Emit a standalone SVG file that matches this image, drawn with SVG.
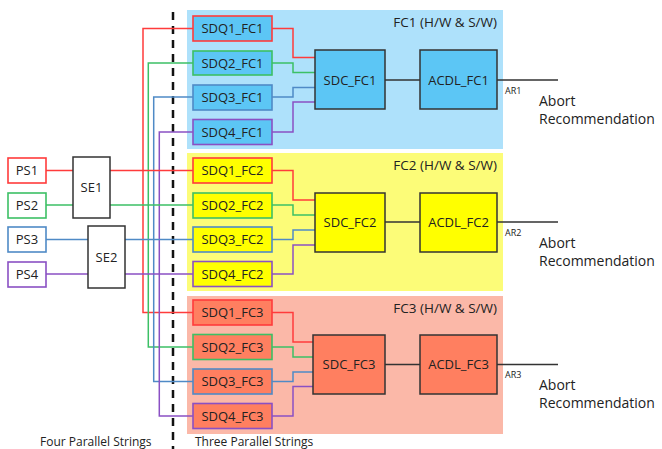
<svg xmlns="http://www.w3.org/2000/svg" width="662" height="449" viewBox="0 0 662 449">
<style>
text{font-family:"Open Sans","Liberation Sans",sans-serif;fill:#222}
.lbl{font-size:13px;text-anchor:middle}
.ttl{font-size:13.5px;text-anchor:end}
.ar{font-size:9px}
.ab{font-size:14px}
.bot{font-size:12px}
.box{stroke-width:1.6}
.blk{stroke:#333;fill:none;stroke-width:1.5}
.r{stroke:#FF3B3B}
.g{stroke:#3CC065}
.b{stroke:#4F8AC6}
.p{stroke:#8A50C4}
.w{fill:none;stroke-width:1.5}
</style>
<rect width="662" height="449" fill="#fff"/>
<g id="panels">
<rect x="187" y="10" width="316" height="139" fill="#AEE1FB"/>
<rect x="187" y="153" width="316" height="138" fill="#FCFC78"/>
<rect x="187" y="296" width="316" height="138" fill="#FBB8A8"/>
<text class="ttl" x="497" y="27">FC1 (H/W &amp; S/W)</text>
<text class="ttl" x="497" y="170">FC2 (H/W &amp; S/W)</text>
<text class="ttl" x="497" y="313">FC3 (H/W &amp; S/W)</text>
</g>
<line id="divider" x1="173" y1="12" x2="173" y2="449" stroke="#111" stroke-width="2.5" stroke-dasharray="8,6"/>
<g id="connectors">
<path class="w r" d="M193,28.5H143V312.5H193"/>
<path class="w g" d="M193,63H148.3V347H193"/>
<path class="w b" d="M193,97H153.7V381.5H193"/>
<path class="w p" d="M193,132H159.3V416H193"/>
<path class="w r" d="M46,170.5H73M110,170.5H193"/>
<path class="w g" d="M46,205H73M110,205H193"/>
<path class="w b" d="M46,239.5H88M125,239.5H193"/>
<path class="w p" d="M46,274H88M125,274H193"/>
<path class="w r" d="M272,28.5H293V57.5H315"/>
<path class="w g" d="M272,63H293V72.5H315"/>
<path class="w b" d="M272,97H293V87.5H315"/>
<path class="w p" d="M272,132H293V102H315"/>
<path class="w r" d="M272,170.5H293V200H315"/>
<path class="w g" d="M272,205H293V215H315"/>
<path class="w b" d="M272,239.5H293V230H315"/>
<path class="w p" d="M272,274H293V245H315"/>
<path class="w r" d="M272,312.5H293V342H313"/>
<path class="w g" d="M272,347H293V357H313"/>
<path class="w b" d="M272,381.5H293V372H313"/>
<path class="w p" d="M272,416H293V386.5H313"/>
<path class="blk" d="M385,80H420M497,80H558"/>
<path class="blk" d="M385,222H420M497,222H558"/>
<path class="blk" d="M385,364.5H420M497,364.5H558"/>
</g>
<g id="PS1"><rect class="box r" x="8" y="158" width="38" height="25" fill="#fff"/><text class="lbl" x="27" y="175">PS1</text></g>
<g id="PS2"><rect class="box g" x="8" y="193" width="38" height="25" fill="#fff"/><text class="lbl" x="27" y="210">PS2</text></g>
<g id="PS3"><rect class="box b" x="8" y="227" width="38" height="25" fill="#fff"/><text class="lbl" x="27" y="244">PS3</text></g>
<g id="PS4"><rect class="box p" x="8" y="262" width="38" height="25" fill="#fff"/><text class="lbl" x="27" y="279">PS4</text></g>
<g id="SE1"><rect x="73" y="157" width="37" height="61" fill="#fff" stroke="#333" stroke-width="1.5"/><text class="lbl" x="91.5" y="192">SE1</text></g>
<g id="SE2"><rect x="88" y="226" width="37" height="62" fill="#fff" stroke="#333" stroke-width="1.5"/><text class="lbl" x="106.5" y="262">SE2</text></g>
<g id="SDQ1_FC1"><rect class="box r" x="193" y="16" width="79" height="25" fill="#5CC6F5"/><text class="lbl" x="232.5" y="33">SDQ1_FC1</text></g>
<g id="SDQ2_FC1"><rect class="box g" x="193" y="51" width="79" height="24" fill="#5CC6F5"/><text class="lbl" x="232.5" y="67.5">SDQ2_FC1</text></g>
<g id="SDQ3_FC1"><rect class="box b" x="193" y="85" width="79" height="25" fill="#5CC6F5"/><text class="lbl" x="232.5" y="102">SDQ3_FC1</text></g>
<g id="SDQ4_FC1"><rect class="box p" x="193" y="119.5" width="79" height="25" fill="#5CC6F5"/><text class="lbl" x="232.5" y="136.5">SDQ4_FC1</text></g>
<g id="SDQ1_FC2"><rect class="box r" x="193" y="158" width="79" height="25" fill="#FFFF00"/><text class="lbl" x="232.5" y="175">SDQ1_FC2</text></g>
<g id="SDQ2_FC2"><rect class="box g" x="193" y="193" width="79" height="25" fill="#FFFF00"/><text class="lbl" x="232.5" y="210">SDQ2_FC2</text></g>
<g id="SDQ3_FC2"><rect class="box b" x="193" y="227" width="79" height="25" fill="#FFFF00"/><text class="lbl" x="232.5" y="244">SDQ3_FC2</text></g>
<g id="SDQ4_FC2"><rect class="box p" x="193" y="261.5" width="79" height="25" fill="#FFFF00"/><text class="lbl" x="232.5" y="278.5">SDQ4_FC2</text></g>
<g id="SDQ1_FC3"><rect class="box r" x="193" y="300" width="79" height="25" fill="#FF7F60"/><text class="lbl" x="232.5" y="317">SDQ1_FC3</text></g>
<g id="SDQ2_FC3"><rect class="box g" x="193" y="334.5" width="79" height="25" fill="#FF7F60"/><text class="lbl" x="232.5" y="351.5">SDQ2_FC3</text></g>
<g id="SDQ3_FC3"><rect class="box b" x="193" y="369" width="79" height="25" fill="#FF7F60"/><text class="lbl" x="232.5" y="386">SDQ3_FC3</text></g>
<g id="SDQ4_FC3"><rect class="box p" x="193" y="403.5" width="79" height="25" fill="#FF7F60"/><text class="lbl" x="232.5" y="420.5">SDQ4_FC3</text></g>
<g id="SDC_FC1"><rect x="315" y="50" width="70" height="59" fill="#5CC6F5" stroke="#333" stroke-width="1.5"/><text class="lbl" x="350" y="84.5">SDC_FC1</text></g>
<g id="ACDL_FC1"><rect x="420" y="50" width="77" height="59" fill="#5CC6F5" stroke="#333" stroke-width="1.5"/><text class="lbl" x="458.5" y="84.5">ACDL_FC1</text></g>
<g id="SDC_FC2"><rect x="315" y="193" width="70" height="59" fill="#FFFF00" stroke="#333" stroke-width="1.5"/><text class="lbl" x="350" y="227">SDC_FC2</text></g>
<g id="ACDL_FC2"><rect x="420" y="193" width="77" height="59" fill="#FFFF00" stroke="#333" stroke-width="1.5"/><text class="lbl" x="458.5" y="227">ACDL_FC2</text></g>
<g id="SDC_FC3"><rect x="313" y="335" width="72" height="59" fill="#FF7F60" stroke="#333" stroke-width="1.5"/><text class="lbl" x="349" y="369">SDC_FC3</text></g>
<g id="ACDL_FC3"><rect x="420" y="335" width="77" height="59" fill="#FF7F60" stroke="#333" stroke-width="1.5"/><text class="lbl" x="458.5" y="369">ACDL_FC3</text></g>
<g id="outputs">
<text class="ar" x="505" y="94">AR1</text>
<text class="ab" x="539" y="106">Abort</text>
<text class="ab" x="539" y="124">Recommendation</text>
<text class="ar" x="505" y="236">AR2</text>
<text class="ab" x="539" y="248">Abort</text>
<text class="ab" x="539" y="266">Recommendation</text>
<text class="ar" x="505" y="378">AR3</text>
<text class="ab" x="539" y="390">Abort</text>
<text class="ab" x="539" y="408">Recommendation</text>
</g>
<text class="bot" x="40" y="446">Four Parallel Strings</text>
<text class="bot" x="195" y="446">Three Parallel Strings</text>
</svg>
